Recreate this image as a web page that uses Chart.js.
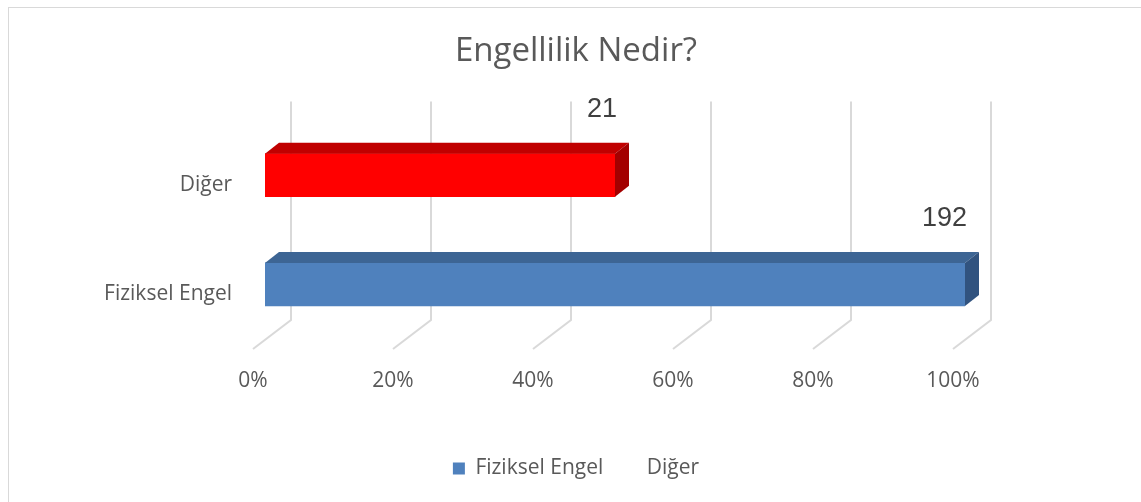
<!DOCTYPE html>
<html>
<head>
<meta charset="utf-8">
<script src="https://cdn.jsdelivr.net/npm/chart.js@4.4.0/dist/chart.umd.min.js"></script>
<style>
  html, body { margin: 0; padding: 0; background: #fff; }
  #wrap { width: 1141px; height: 502px; }
</style>
</head>
<body>
<div id="wrap"><canvas id="chart" width="1141" height="502"></canvas></div>
<script>
// categories, top to bottom as drawn
const categories = ['Diğer', 'Fiziksel Engel'];
// first series (the coloured bars)
const fizikselEngel = [21, 192];
// second series, no fill in the original
const diger = [21, 0];
// labels written next to the bars
const valueLabels = ['21', '192'];
const tickLabels = ['0%', '20%', '40%', '60%', '80%', '100%'];

// per-bar colours: front, top and side faces
const frontColors = ['#FF0000', '#4F81BD'];
const topColors = ['#C00000', '#3D6594'];
const sideColors = ['#A30000', '#31537F'];

// 100% stacked: share of each category total
const totals = categories.map((c, i) => fizikselEngel[i] + diger[i]);
const pctFiziksel = fizikselEngel.map((v, i) => v / totals[i] * 100);
const pctDiger = diger.map((v, i) => v / totals[i] * 100);

const textColor = '#595959';
const gridColor = '#D9D9D9';
const labelFont = { family: 'Open Sans', size: 21 };

// depth offsets of the fake 3D box, relative to the bars' front plane
const depth = {
  bar: { dx: 14, dy: -11 },
  floorFront: { dx: -12, dy: 10 },
  backWall: { dx: 26, dy: -19 }
};

const box3d = {
  id: 'box3d',
  beforeDraw(chart) {
    const c = chart.ctx;
    c.save();
    c.fillStyle = '#fff';
    c.fillRect(0, 0, chart.width, chart.height);
    c.strokeStyle = gridColor;
    c.lineWidth = 1;
    c.strokeRect(8.5, 7.5, chart.width + 10, chart.height + 10);
    c.restore();
  },
  beforeDatasetsDraw(chart) {
    const c = chart.ctx;
    const area = chart.chartArea;
    const xs = chart.scales.x;
    c.save();
    c.strokeStyle = gridColor;
    c.lineWidth = 2;
    xs.ticks.forEach(t => {
      const fx = xs.getPixelForValue(t.value);
      const bx = fx + depth.backWall.dx;
      c.beginPath();
      c.moveTo(bx, area.top + depth.backWall.dy);
      c.lineTo(bx, area.bottom + depth.backWall.dy);
      c.lineTo(fx + depth.floorFront.dx, area.bottom + depth.floorFront.dy);
      c.stroke();
    });
    c.restore();
  },
  afterDatasetsDraw(chart) {
    const c = chart.ctx;
    const meta = chart.getDatasetMeta(0);
    c.save();
    meta.data.forEach((el, i) => {
      const { x, y, base, height } = el.getProps(['x', 'y', 'base', 'height'], true);
      const t = y - height / 2;
      const b = y + height / 2;
      const dx = depth.bar.dx, dy = depth.bar.dy;
      // top face
      c.fillStyle = topColors[i];
      c.beginPath();
      c.moveTo(base, t);
      c.lineTo(base + dx, t + dy);
      c.lineTo(x + dx, t + dy);
      c.lineTo(x, t);
      c.closePath();
      c.fill();
      // side face
      c.fillStyle = sideColors[i];
      c.beginPath();
      c.moveTo(x, t);
      c.lineTo(x + dx, t + dy);
      c.lineTo(x + dx, b + dy);
      c.lineTo(x, b);
      c.closePath();
      c.fill();
      // value label
      c.fillStyle = '#404040';
      c.font = '27px "Liberation Sans", Arial, sans-serif';
      c.textAlign = 'right';
      c.textBaseline = 'middle';
      c.fillText(valueLabels[i], x + 2, y - 66);
    });
    c.restore();
  }
};

new Chart(document.getElementById('chart'), {
  type: 'bar',
  data: {
    labels: categories,
    datasets: [
      {
        label: 'Fiziksel Engel',
        data: pctFiziksel,
        backgroundColor: ctx => frontColors[ctx.dataIndex],
        borderWidth: 0,
        barThickness: 43
      },
      {
        label: 'Diğer',
        data: pctDiger,
        backgroundColor: 'rgba(0,0,0,0)',
        borderWidth: 0,
        barThickness: 43
      }
    ]
  },
  options: {
    indexAxis: 'y',
    responsive: false,
    animation: false,
    layout: { padding: { left: 11, right: 0, top: 0, bottom: 13 } },
    scales: {
      x: {
        stacked: true,
        min: 0,
        max: 100,
        grid: { display: false, drawTicks: false },
        border: { display: false },
        ticks: {
          stepSize: 20,
          padding: 29,
          labelOffset: depth.floorFront.dx,
          color: textColor,
          font: labelFont,
          callback: (v, i) => tickLabels[i]
        },
        afterFit: s => { s.height = 98; }
      },
      y: {
        stacked: true,
        grid: { display: false, drawTicks: false },
        border: { display: false },
        ticks: { padding: 33, labelOffset: 10, color: textColor, font: labelFont },
        afterFit: s => { s.width = 254; }
      },
      // empty space on the right, keeps title and legend centred on the whole box
      spacer: {
        type: 'linear',
        position: 'right',
        grid: { display: false },
        border: { display: false },
        ticks: { display: false },
        afterFit: s => { s.width = 176; }
      }
    },
    plugins: {
      title: {
        display: true,
        text: 'Engellilik Nedir?',
        color: textColor,
        font: { family: 'Open Sans', size: 33, weight: 'normal' },
        padding: { top: 32, bottom: 49 }
      },
      legend: {
        position: 'bottom',
        labels: {
          boxWidth: 12,
          boxHeight: 12,
          padding: 21,
          color: textColor,
          font: labelFont,
          generateLabels: chart => chart.data.datasets.map((ds, i) => ({
            text: ds.label,
            fillStyle: i === 0 ? frontColors[1] : 'rgba(0,0,0,0)',
            strokeStyle: 'rgba(0,0,0,0)',
            lineWidth: 0,
            fontColor: textColor,
            datasetIndex: i
          }))
        }
      },
      tooltip: { enabled: false }
    }
  },
  plugins: [box3d]
});
</script>
</body>
</html>
